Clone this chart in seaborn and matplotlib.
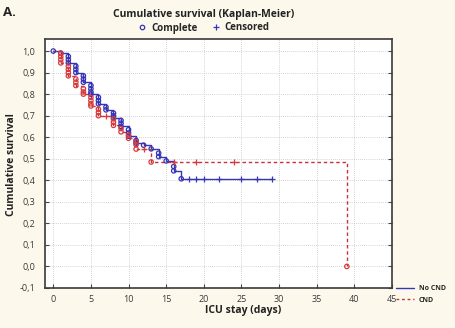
import matplotlib
matplotlib.use("Agg")
import matplotlib.pyplot as plt
import seaborn as sns
import pandas as pd
from matplotlib.lines import Line2D

# ---------------- data ----------------
groups = ["No CND", "CND"]

nocnd_event_days = [0, 1, 2, 2, 2, 3, 3, 3, 4, 4, 4, 5, 5, 5, 5, 6, 6, 6, 7, 7,
                    8, 8, 8, 9, 9, 9, 10, 10, 10, 11, 11, 12, 13, 14, 14, 15, 16, 16, 17]
nocnd_event_surv = [1.0, 0.99, 0.975, 0.96, 0.945, 0.93, 0.915, 0.90, 0.885, 0.87,
                    0.855, 0.84, 0.825, 0.81, 0.80, 0.785, 0.77, 0.755, 0.74, 0.727,
                    0.712, 0.70, 0.69, 0.678, 0.665, 0.65, 0.635, 0.62, 0.605, 0.585,
                    0.573, 0.563, 0.546, 0.526, 0.51, 0.49, 0.464, 0.444, 0.407]
nocnd_cens_days = [18, 19, 20, 22, 25, 27, 29]
nocnd_cens_surv = [0.407, 0.407, 0.407, 0.407, 0.407, 0.407, 0.407]

cnd_event_days = [1, 1, 1, 1, 2, 2, 2, 2, 3, 3, 3, 4, 4, 4, 5, 5, 5, 5, 6, 6, 6,
                  8, 8, 8, 9, 9, 10, 10, 11, 11, 11, 13, 39]
cnd_event_surv = [0.99, 0.975, 0.96, 0.945, 0.93, 0.915, 0.90, 0.885, 0.87, 0.855,
                  0.84, 0.825, 0.81, 0.80, 0.785, 0.77, 0.755, 0.745, 0.73, 0.715,
                  0.70, 0.685, 0.67, 0.655, 0.64, 0.625, 0.61, 0.595, 0.58, 0.565,
                  0.545, 0.485, 0.0]
cnd_cens_days = [7, 12, 16, 19, 24]
cnd_cens_surv = [0.70, 0.545, 0.485, 0.485, 0.485]

x_ticks = [0, 5, 10, 15, 20, 25, 30, 35, 40, 45]
y_ticks = [-0.1, 0.0, 0.1, 0.2, 0.3, 0.4, 0.5, 0.6, 0.7, 0.8, 0.9, 1.0]
y_tick_labels = ["-0,1", "0,0", "0,1", "0,2", "0,3", "0,4", "0,5", "0,6", "0,7",
                 "0,8", "0,9", "1,0"]

# ---------------- tables ----------------
def make_tables(name, ed, es, cd, cs):
    ev = pd.DataFrame({"day": ed, "surv": es, "kind": "Complete"})
    ce = pd.DataFrame({"day": cd, "surv": cs, "kind": "Censored"})
    start = pd.DataFrame({"day": [0], "surv": [1.0], "kind": ["start"]})
    path = pd.concat([start, ev, ce], ignore_index=True)
    path["neg"] = -path["surv"]
    path = path.sort_values(["day", "neg"], kind="stable").drop(columns="neg")
    path["group"] = name
    ev["group"] = name
    ce["group"] = name
    return path, ev, ce

p1, e1, c1 = make_tables(groups[0], nocnd_event_days, nocnd_event_surv,
                         nocnd_cens_days, nocnd_cens_surv)
p2, e2, c2 = make_tables(groups[1], cnd_event_days, cnd_event_surv,
                         cnd_cens_days, cnd_cens_surv)

BLUE = "#3535b5"
RED = "#c8323c"
RED_M = "#d83a3a"
BG = "#fcf8ec"
FONT = ["Open Sans", "DejaVu Sans"]

sns.set_theme(style="white")
plt.rcParams["font.family"] = FONT

fig = plt.figure(figsize=(4.55, 3.28), dpi=100, facecolor=BG)
W, H = 455, 328
ax = fig.add_axes([45 / W, 1 - 288 / H, (392 - 45) / W, (288 - 39) / H])
ax.set_facecolor("white")

# step lines
sns.lineplot(data=p1, x="day", y="surv", color=BLUE, lw=1.0, estimator=None,
             sort=False, drawstyle="steps-post", ax=ax, legend=False, zorder=3)
sns.lineplot(data=p2, x="day", y="surv", color=RED, lw=1.0, estimator=None,
             sort=False, drawstyle="steps-post", ax=ax, legend=False, zorder=3,
             dashes=False)
ax.lines[-1].set_dashes((2.5, 2.0))

# complete (circles)
sns.scatterplot(data=e1, x="day", y="surv", marker="o", s=10, facecolor="none",
                edgecolor=BLUE, color=BLUE, linewidth=0.9, ax=ax, legend=False, zorder=4)
sns.scatterplot(data=e2, x="day", y="surv", marker="o", s=10, facecolor="none",
                edgecolor=RED_M, color=RED_M, linewidth=0.9, ax=ax, legend=False, zorder=5)
# censored (+)
sns.scatterplot(data=c1, x="day", y="surv", marker="+", s=20, color=BLUE,
                linewidth=0.9, ax=ax, legend=False, zorder=4)
sns.scatterplot(data=c2, x="day", y="surv", marker="+", s=20, color=RED_M,
                linewidth=0.9, ax=ax, legend=False, zorder=5)

ax.set_xlim(-1.1, 45)
ax.set_ylim(-0.1, 1.056)
ax.set_xticks(x_ticks)
ax.set_xticklabels([str(t) for t in x_ticks])
ax.set_yticks(y_ticks)
ax.set_yticklabels(y_tick_labels)
ax.tick_params(axis="both", direction="in", length=3, width=0.8, color="#444444",
               labelsize=6.5, labelcolor="#3a3a3a", top=False, right=True, left=True,
               bottom=True)
ax.tick_params(axis="y", pad=7)
ax.tick_params(axis="x", pad=5)
ax.grid(True, linestyle=(0, (1, 1.5)), color="#c4c4c4", linewidth=0.6)
for s in ax.spines.values():
    s.set_color("#3a3a3a")
    s.set_linewidth(1.2)
ax.set_xlabel("")
ax.set_ylabel("")

# texts
fig.text(3 / W, 1 - 13 / H, "A.", fontsize=9.5, fontweight="bold", va="center",
         ha="left", color="#222222")
fig.text(204 / W, 1 - 14 / H, "Cumulative survival (Kaplan-Meier)", fontsize=7.5,
         fontweight="bold", ha="center", va="center", color="#222222")
fig.text(12 / W, 1 - 165 / H, "Cumulative survival", fontsize=7.5, fontweight="bold",
         rotation=90, ha="center", va="center", color="#222222")
fig.text(243 / W, 1 - 311 / H, "ICU stay (days)", fontsize=7.5, fontweight="bold",
         ha="center", va="center", color="#222222")

top_handles = [
    Line2D([], [], marker="o", ls="none", markerfacecolor="none",
           markeredgecolor=BLUE, markersize=3.2, markeredgewidth=0.9),
    Line2D([], [], marker="+", ls="none", color=BLUE, markersize=4.5,
           markeredgewidth=0.9),
]
fig.legend(top_handles, ["Complete", "Censored"], ncol=2, frameon=False,
           loc="center", bbox_to_anchor=(204 / W, 1 - 28 / H),
           prop={"family": FONT, "weight": "bold", "size": 7},
           handlelength=0.8, handletextpad=0.5, columnspacing=1.5)

bot_handles = [
    Line2D([], [], color=BLUE, lw=1.0),
    Line2D([], [], color=RED, lw=1.0, dashes=(2.0, 2.0)),
]
fig.legend(bot_handles, ["No CND", "CND"], ncol=1, frameon=False,
           loc="upper left", bbox_to_anchor=(395 / W, 1 - 284 / H),
           prop={"family": FONT, "weight": "bold", "size": 5},
           handlelength=2.6, handletextpad=0.6, labelspacing=0.6,
           borderaxespad=0, borderpad=0.2)

fig.savefig("out.png", dpi=100, facecolor=BG)
